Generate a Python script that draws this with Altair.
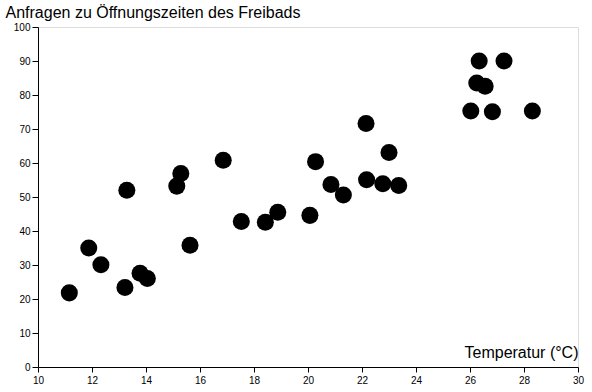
import altair as alt
import pandas as pd

temperatur = [11.16, 11.88, 12.33, 13.22, 13.78, 14.05, 13.29, 15.29, 15.14, 15.63,
              16.86, 17.53, 18.42, 18.88, 20.07, 20.28, 20.85, 21.31, 22.15, 22.17,
              22.77, 23.0, 23.36, 26.03, 26.34, 26.25, 26.56, 26.83, 27.26, 28.31]
anfragen = [21.8, 35.0, 30.1, 23.4, 27.6, 26.0, 52.0, 56.9, 53.2, 35.8,
            60.8, 42.8, 42.6, 45.5, 44.6, 60.4, 53.7, 50.6, 71.6, 55.1,
            53.9, 63.1, 53.4, 75.3, 90.0, 83.5, 82.6, 75.1, 90.0, 75.3]

x_ticks = list(range(10, 31, 2))
y_ticks = list(range(0, 101, 10))

df = pd.DataFrame({"t": temperatur, "a": anfragen})

FONT = "Liberation Sans"

chart = alt.Chart(df).mark_circle(size=290, color="black", opacity=1).encode(
    x=alt.X("t:Q", scale=alt.Scale(domain=[10, 30], nice=False, zero=False),
            axis=alt.Axis(values=x_ticks, title="Temperatur (°C)", grid=False,
                          titleX=540, titleY=-10, titleAlign="right",
                          titleBaseline="alphabetic", titleFontWeight="normal",
                          titleFontSize=16, titleFont=FONT, titleColor="black",
                          labelFont=FONT, labelFontSize=10, labelColor="black",
                          tickSize=5, labelPadding=3, domainColor="black",
                          tickColor="black", labelFlush=False)),
    y=alt.Y("a:Q", scale=alt.Scale(domain=[0, 100], nice=False),
            axis=alt.Axis(values=y_ticks, title="Anfragen zu Öffnungszeiten des Freibads",
                          grid=False, titleAngle=0, titleX=-33, titleY=-10,
                          titleAlign="left", titleBaseline="alphabetic",
                          titleFontWeight="normal", titleFontSize=16, titleFont=FONT,
                          titleColor="black", labelFont=FONT, labelFontSize=10,
                          labelColor="black", tickSize=6, labelPadding=2,
                          domainColor="black", tickColor="black", labelFlush=False)),
).properties(
    width=540, height=340,
    autosize=alt.AutoSizeParams(type="none"),
    padding={"left": 38, "top": 27, "right": 14, "bottom": 25},
).configure_view(stroke=None).configure(background="white")

chart.save("out.html", embed_options={"renderer": "svg", "actions": False})
